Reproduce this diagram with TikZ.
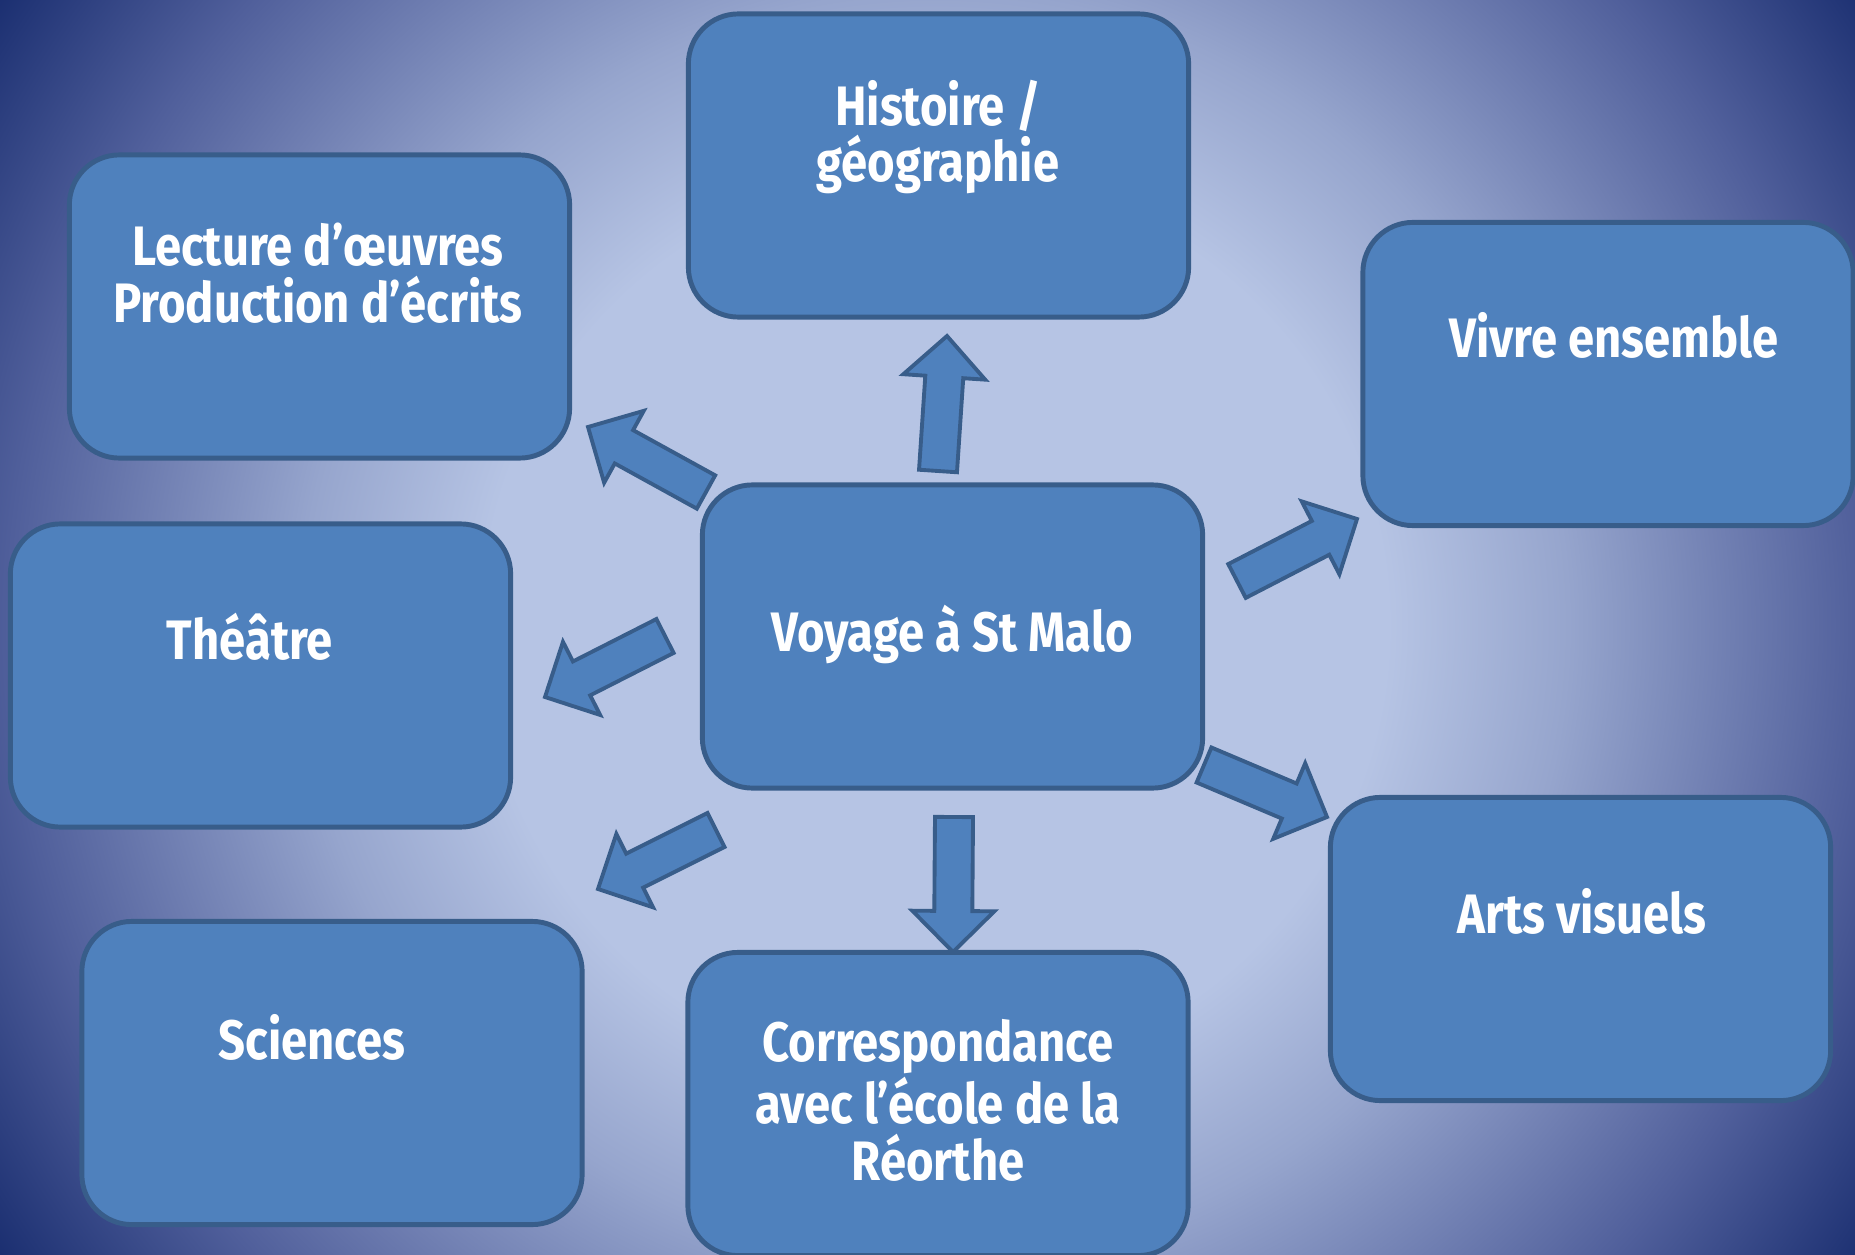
\documentclass[tikz,border=0pt]{standalone}
\usepackage{fontspec}
\setmainfont{Fira Sans}[FakeStretch=0.85]
\usetikzlibrary{calc}
\definecolor{boxfill}{HTML}{4F81BD}
\definecolor{boxline}{HTML}{385D8A}
\definecolor{clair}{RGB}{182,196,228}
\definecolor{moyen}{RGB}{150,165,205}
\definecolor{sombre}{RGB}{80,95,155}
\definecolor{fonce}{RGB}{26,46,112}
\pgfdeclareradialshading{fond}{\pgfpoint{0bp}{0bp}}{color(0bp)=(clair); color(10bp)=(clair); color(14bp)=(moyen); color(20.5bp)=(sombre); color(25bp)=(fonce); color(50bp)=(fonce)}
\tikzstyle{boite}=[rectangle,rounded corners=0.5cm,draw=boxline,fill=boxfill,line width=1.4pt,minimum width=5cm,minimum height=3.03cm]
\tikzstyle{txt}=[text=white,font=\bfseries\fontsize{15.8}{16.2}\selectfont,align=center,inner sep=0pt]
\tikzstyle{fleche}=[draw=boxline,fill=boxfill,line width=1.1pt,line join=miter]
% grosse fleche : queue, pointe
\newcommand{\grossefleche}[2]{%
	\path ($(#2)!0.41cm!(#1)$) coordinate (col);
	\draw[fleche] ($(#1)!0.19cm!90:(#2)$) -- ($(col)!0.19cm!90:(#2)$) -- ($(col)!0.41cm!90:(#2)$) -- (#2)
	-- ($(col)!0.41cm!-90:(#2)$) -- ($(col)!0.19cm!-90:(#2)$) -- ($(#1)!0.19cm!-90:(#2)$) -- cycle;}

\begin{document}
\begin{tikzpicture}[x=0.01cm,y=-0.01cm]
	\useasboundingbox (0,0) rectangle (1855,1255);
	\begin{scope}
	\clip (0,0) rectangle (1855,1255);
	\shade[shading=fond] (935,625) circle (11.3cm);
	\end{scope}

	% les cases
	\node[boite] (hist) at (938.5,165.5) {};
	\node[boite] (lect) at (319.5,306.5) {};
	\node[boite,minimum width=4.9cm] (vivre) at (1608,374) {};
	\node[boite] (theatre) at (260.5,675.5) {};
	\node[boite] (voyage) at (952.5,636.5) {};
	\node[boite] (arts) at (1580.5,949) {};
	\node[boite] (sciences) at (332,1073) {};
	\node[boite] (corresp) at (938,1104) {};

	% les textes
	\node[txt] (histT) at (938,137) {Histoire /\\géographie};
	\node[txt] (lectT) at (318,273) {Lecture d’œuvres\\Production d’écrits};
	\node[txt,anchor=base] (vivreT) at (1614,357) {Vivre ensemble};
	\node[txt,anchor=base] (theatreT) at (250,659) {Théâtre};
	\node[txt,anchor=base] (voyageT) at (952,651) {Voyage à St Malo};
	\node[txt,anchor=base] (artsT) at (1582,933) {Arts visuels};
	\node[txt,anchor=base] (sciencesT) at (312,1059) {Sciences};
	\node[txt] (correspT) at (938,1100) {Correspondance\\avec l’école de la\\Réorthe};

	% les fleches
	\coordinate (q1) at (938,471);  \coordinate (p1) at (947,336);
	\coordinate (q2) at (706,492);  \coordinate (p2) at (588,427);
	\coordinate (q3) at (1237,581); \coordinate (p3) at (1357,519);
	\coordinate (q4) at (665,636);  \coordinate (p4) at (545,697);
	\coordinate (q5) at (716,830);  \coordinate (p5) at (598,889);
	\coordinate (q6) at (1204,765); \coordinate (p6) at (1327,817);
	\coordinate (q7) at (954,817);  \coordinate (p7) at (953,952);
	\foreach \i in {1,...,7}
	\grossefleche{q\i}{p\i};
\end{tikzpicture}
\end{document}
